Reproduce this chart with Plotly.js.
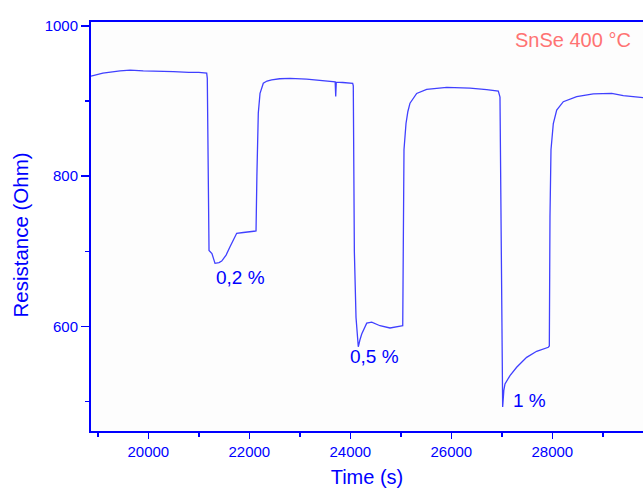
<!DOCTYPE html>
<html>
<head>
<meta charset="utf-8">
<script src="https://cdn.plot.ly/plotly-3.0.1.min.js"></script>
<style>html,body{margin:0;padding:0;background:#fff;}#chart{width:643px;height:488px;}</style>
</head>
<body>
<div id="chart"></div>
<script>
// Time (s)
var timeS = [18865, 19100, 19440, 19640, 19900, 20200, 20500, 20800, 21000, 21156,
  21168, 21202, 21230, 21260, 21321, 21400, 21453, 21540, 21618, 21700, 21750, 21881, 22000, 22113,
  22133, 22150, 22178, 22212, 22277, 22350, 22443, 22600, 22806, 23135, 23400, 23598, 23700, 23711, 23722, 23850, 24047,
  24059, 24080, 24113, 24135, 24158, 24190, 24226, 24325, 24424, 24588, 24786, 25018,
  25038, 25063, 25103, 25140, 25182, 25314, 25512, 25909, 26370, 26700, 26931,
  26964, 26990, 27017, 27040, 27063, 27162, 27294, 27492, 27690, 27921,
  27941, 27954, 27974, 28020, 28087, 28218, 28483, 28812, 29176, 29406, 29796];
// Resistance (Ohm)
var resistance = [933, 937, 940, 941, 940, 940, 939, 938, 938, 937,
  930, 701, 699, 697, 684, 685, 687, 695, 706, 716, 724, 725, 726, 727,
  727, 800, 884, 910, 923.5, 926.5, 928, 929.5, 930, 929, 927, 926, 925.5, 906, 925, 924.5, 923.5,
  920, 700, 612, 590, 573, 582, 590, 604.4, 605.8, 601, 598, 600.8,
  601, 835, 870, 886, 897, 910, 915.5, 918, 917, 915, 913,
  905, 640, 493, 515, 523.6, 534.7, 545.8, 559, 567, 572.4,
  574, 745.8, 835, 870, 888, 899, 905.8, 909.3, 910, 907, 904.4];

var pctLabels = ['0,2 %', '0,5 %', '1 %'];
var pctX = [21826, 24479, 27539];
var pctY = [665, 560, 501];

var blue = '#0000ff';
var fontFam = 'Liberation Sans, Arial, sans-serif';

var annotations = pctLabels.map(function (t, i) {
  return {x: pctX[i], y: pctY[i], xref: 'x', yref: 'y', text: t, showarrow: false,
    font: {family: fontFam, size: 19, color: blue}};
});
annotations.push({x: 0.982, y: 0.956, xref: 'paper', yref: 'paper', xanchor: 'right', yanchor: 'middle',
  text: 'SnSe 400 °C', showarrow: false, font: {family: fontFam, size: 20, color: '#ff7373'}});
annotations.push({x: -0.127, y: 0.48, xref: 'paper', yref: 'paper', xanchor: 'center', yanchor: 'middle',
  textangle: -90, text: 'Resistance (Ohm)', showarrow: false, font: {family: fontFam, size: 20.5, color: blue}});

Plotly.newPlot('chart', [{
  x: timeS, y: resistance, type: 'scatter', mode: 'lines',
  line: {color: '#4040ff', width: 1.3}, hoverinfo: 'skip'
}], {
  width: 643, height: 488,
  margin: {l: 91, r: 0, t: 22, b: 57},
  paper_bgcolor: '#ffffff', plot_bgcolor: '#fdfdfd',
  showlegend: false,
  font: {family: fontFam, color: blue},
  xaxis: {
    range: [18865, 29796], showgrid: false, zeroline: false,
    showline: true, linecolor: blue, linewidth: 2, mirror: true,
    ticks: 'outside', tickcolor: blue, ticklen: 6, tickwidth: 1.5,
    tick0: 20000, dtick: 2000, tickformat: 'd',
    minor: {dtick: 1000, tick0: 19000, ticks: 'outside', ticklen: 4, tickcolor: blue, tickwidth: 1.5, showgrid: false},
    tickfont: {family: fontFam, size: 15, color: blue},
    title: {text: 'Time (s)', font: {family: fontFam, size: 20, color: blue}, standoff: 11}
  },
  yaxis: {
    range: [461, 1005], showgrid: false, zeroline: false,
    showline: true, linecolor: blue, linewidth: 2, mirror: false,
    ticks: 'outside', tickcolor: blue, ticklen: 8, tickwidth: 1.5,
    tick0: 600, dtick: 200,
    minor: {dtick: 100, tick0: 500, ticks: 'outside', ticklen: 4, tickcolor: blue, tickwidth: 1.5, showgrid: false},
    tickfont: {family: fontFam, size: 15, color: blue}
  },
  annotations: annotations
}, {displayModeBar: false, staticPlot: true});
</script>
</body>
</html>
